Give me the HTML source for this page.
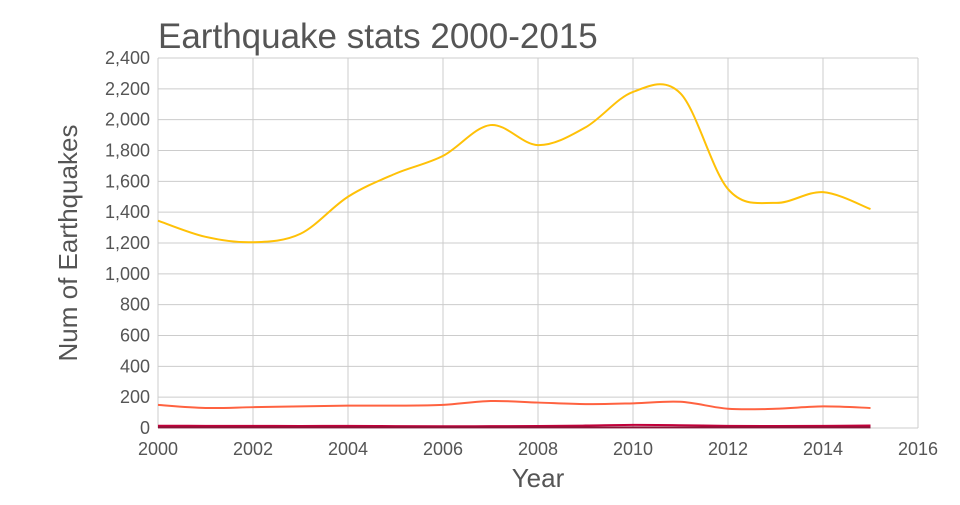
<!DOCTYPE html>
<html><head><meta charset="utf-8"><style>
body{margin:0;background:#fff;font-family:"Liberation Sans",sans-serif}
svg text{fill:#555;font-family:"Liberation Sans",sans-serif}
</style></head><body>
<svg id="c" width="960" height="500"></svg>
<script>
const years=[2000,2001,2002,2003,2004,2005,2006,2007,2008,2009,2010,2011,2012,2013,2014,2015];
const majorVals=[1345,1240,1205,1260,1500,1650,1765,1965,1835,1950,2180,2170,1550,1460,1530,1420];
const mediumVals=[150,130,135,140,145,145,150,175,165,155,160,170,125,125,140,130];
const strongVals=[15,14,14,13,14,12,11,12,13,16,20,18,14,13,14,16];
const greatVals=[4,4,4,4,4,4,4,4,4,4,4,4,4,4,4,4];
const xTicks=[2000,2002,2004,2006,2008,2010,2012,2014,2016];
const yTicks=[0,200,400,600,800,1000,1200,1400,1600,1800,2000,2200,2400];
const seriesList=[[majorVals,'#ffc107','series-major'],[mediumVals,'#ff6240','series-medium'],[strongVals,'#c2003a','series-strong'],[greatVals,'#8a1538','series-great']];
const ns='http://www.w3.org/2000/svg',svg=document.getElementById('c');
const X=v=>158+(v-2000)*47.5, Y=v=>428-v*370/2400;
function mk(t,a){const e=document.createElementNS(ns,t);for(const k in a)e.setAttribute(k,a[k]);svg.appendChild(e);return e;}
yTicks.forEach(t=>{const l=mk('line',{x1:158,x2:918,y1:Y(t),y2:Y(t),stroke:'#ccc','stroke-width':1});


const tx=mk('text',{x:150,y:Y(t)+6,'text-anchor':'end','font-size':18});tx.textContent=t.toLocaleString('en-US');

});
xTicks.forEach(t=>{const l=mk('line',{x1:X(t),x2:X(t),y1:58,y2:428,stroke:'#ccc','stroke-width':1});


const tx=mk('text',{x:X(t),y:455,'text-anchor':'middle','font-size':18});tx.textContent=t;

});
function path(vals){const p=years.map((y,i)=>[X(y),Y(vals[i])]);let d='M'+p[0];
for(let i=0;i<p.length-1;i++){const p0=p[i-1]||p[i],p1=p[i],p2=p[i+1],p3=p[i+2]||p2;
const c1=[p1[0]+(p2[0]-p0[0])/6,p1[1]+(p2[1]-p0[1])/6],c2=[p2[0]-(p3[0]-p1[0])/6,p2[1]-(p3[1]-p1[1])/6];
d+='C'+c1+' '+c2+' '+p2;}return d;}
seriesList.forEach(s=>{const e=mk('path',{d:path(s[0]),fill:'none',stroke:s[1],'stroke-width':2});

});
const t=mk('text',{x:158,y:48,'font-size':35});t.textContent='Earthquake stats 2000-2015';


const xt=mk('text',{x:538,y:487,'text-anchor':'middle','font-size':26});xt.textContent='Year';


const yt=mk('text',{x:0,y:0,'text-anchor':'middle','font-size':26,transform:'translate(77,243) rotate(-90)'});yt.textContent='Num of Earthquakes';


</script>
</body></html>
